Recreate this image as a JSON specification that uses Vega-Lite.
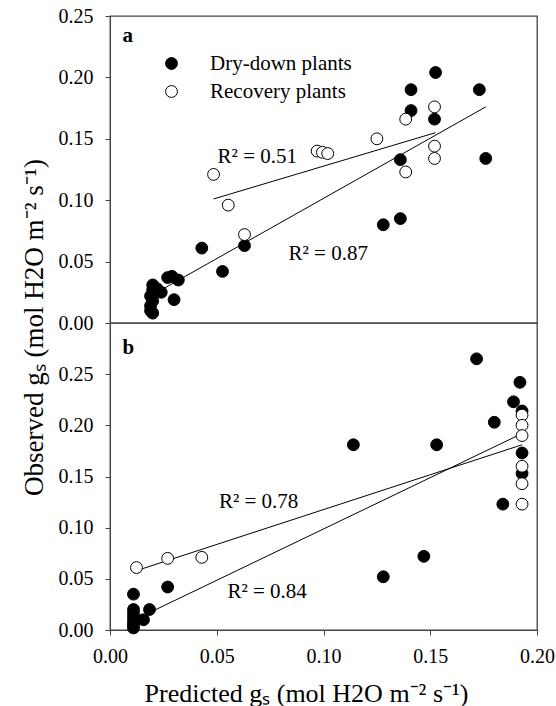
{
  "$schema": "https://vega.github.io/schema/vega-lite/v6.json",
  "padding": {"left": 19, "top": 5, "right": 5, "bottom": 0},
  "background": "white",
  "config": {
    "font": "Liberation Serif",
    "view": {"stroke": "#444", "strokeWidth": 1.3},
    "axis": {"grid": false, "domainColor": "#444", "tickColor": "#444", "labelColor": "black", "titleColor": "black", "labelFont": "Liberation Serif", "titleFont": "Liberation Serif", "labelFontSize": 20, "tickSize": 5, "titleFontWeight": "normal", "labelFlush": false}
  },
  "datasets": {
    "pts": [
      {"panel": "a", "group": "Dry-down plants", "pred": 0.020, "obs": 0.008},
      {"panel": "a", "group": "Dry-down plants", "pred": 0.019, "obs": 0.010},
      {"panel": "a", "group": "Dry-down plants", "pred": 0.019, "obs": 0.014},
      {"panel": "a", "group": "Dry-down plants", "pred": 0.020, "obs": 0.018},
      {"panel": "a", "group": "Dry-down plants", "pred": 0.019, "obs": 0.022},
      {"panel": "a", "group": "Dry-down plants", "pred": 0.020, "obs": 0.027},
      {"panel": "a", "group": "Dry-down plants", "pred": 0.020, "obs": 0.031},
      {"panel": "a", "group": "Dry-down plants", "pred": 0.022, "obs": 0.028},
      {"panel": "a", "group": "Dry-down plants", "pred": 0.024, "obs": 0.025},
      {"panel": "a", "group": "Dry-down plants", "pred": 0.027, "obs": 0.037},
      {"panel": "a", "group": "Dry-down plants", "pred": 0.029, "obs": 0.038},
      {"panel": "a", "group": "Dry-down plants", "pred": 0.032, "obs": 0.035},
      {"panel": "a", "group": "Dry-down plants", "pred": 0.030, "obs": 0.019},
      {"panel": "a", "group": "Dry-down plants", "pred": 0.043, "obs": 0.061},
      {"panel": "a", "group": "Dry-down plants", "pred": 0.0527, "obs": 0.042},
      {"panel": "a", "group": "Dry-down plants", "pred": 0.063, "obs": 0.063},
      {"panel": "a", "group": "Dry-down plants", "pred": 0.136, "obs": 0.133},
      {"panel": "a", "group": "Dry-down plants", "pred": 0.1525, "obs": 0.204},
      {"panel": "a", "group": "Dry-down plants", "pred": 0.141, "obs": 0.190},
      {"panel": "a", "group": "Dry-down plants", "pred": 0.173, "obs": 0.190},
      {"panel": "a", "group": "Dry-down plants", "pred": 0.141, "obs": 0.173},
      {"panel": "a", "group": "Dry-down plants", "pred": 0.152, "obs": 0.166},
      {"panel": "a", "group": "Dry-down plants", "pred": 0.176, "obs": 0.134},
      {"panel": "a", "group": "Dry-down plants", "pred": 0.128, "obs": 0.080},
      {"panel": "a", "group": "Dry-down plants", "pred": 0.136, "obs": 0.085},
      {"panel": "a", "group": "Recovery plants", "pred": 0.0485, "obs": 0.121},
      {"panel": "a", "group": "Recovery plants", "pred": 0.0554, "obs": 0.096},
      {"panel": "a", "group": "Recovery plants", "pred": 0.063, "obs": 0.072},
      {"panel": "a", "group": "Recovery plants", "pred": 0.125, "obs": 0.150},
      {"panel": "a", "group": "Recovery plants", "pred": 0.097, "obs": 0.140},
      {"panel": "a", "group": "Recovery plants", "pred": 0.0995, "obs": 0.139},
      {"panel": "a", "group": "Recovery plants", "pred": 0.102, "obs": 0.138},
      {"panel": "a", "group": "Recovery plants", "pred": 0.1385, "obs": 0.166},
      {"panel": "a", "group": "Recovery plants", "pred": 0.152, "obs": 0.176},
      {"panel": "a", "group": "Recovery plants", "pred": 0.152, "obs": 0.144},
      {"panel": "a", "group": "Recovery plants", "pred": 0.152, "obs": 0.134},
      {"panel": "a", "group": "Recovery plants", "pred": 0.1385, "obs": 0.123},
      {"panel": "b", "group": "Dry-down plants", "pred": 0.011, "obs": 0.035},
      {"panel": "b", "group": "Dry-down plants", "pred": 0.011, "obs": 0.020},
      {"panel": "b", "group": "Dry-down plants", "pred": 0.011, "obs": 0.016},
      {"panel": "b", "group": "Dry-down plants", "pred": 0.011, "obs": 0.012},
      {"panel": "b", "group": "Dry-down plants", "pred": 0.011, "obs": 0.008},
      {"panel": "b", "group": "Dry-down plants", "pred": 0.011, "obs": 0.005},
      {"panel": "b", "group": "Dry-down plants", "pred": 0.011, "obs": 0.002},
      {"panel": "b", "group": "Dry-down plants", "pred": 0.0157, "obs": 0.010},
      {"panel": "b", "group": "Dry-down plants", "pred": 0.0185, "obs": 0.020},
      {"panel": "b", "group": "Dry-down plants", "pred": 0.027, "obs": 0.042},
      {"panel": "b", "group": "Dry-down plants", "pred": 0.1717, "obs": 0.265},
      {"panel": "b", "group": "Dry-down plants", "pred": 0.192, "obs": 0.242},
      {"panel": "b", "group": "Dry-down plants", "pred": 0.189, "obs": 0.223},
      {"panel": "b", "group": "Dry-down plants", "pred": 0.180, "obs": 0.203},
      {"panel": "b", "group": "Dry-down plants", "pred": 0.114, "obs": 0.181},
      {"panel": "b", "group": "Dry-down plants", "pred": 0.153, "obs": 0.181},
      {"panel": "b", "group": "Dry-down plants", "pred": 0.193, "obs": 0.173},
      {"panel": "b", "group": "Dry-down plants", "pred": 0.193, "obs": 0.214},
      {"panel": "b", "group": "Dry-down plants", "pred": 0.193, "obs": 0.153},
      {"panel": "b", "group": "Dry-down plants", "pred": 0.184, "obs": 0.123},
      {"panel": "b", "group": "Dry-down plants", "pred": 0.147, "obs": 0.072},
      {"panel": "b", "group": "Dry-down plants", "pred": 0.128, "obs": 0.052},
      {"panel": "b", "group": "Recovery plants", "pred": 0.0124, "obs": 0.061},
      {"panel": "b", "group": "Recovery plants", "pred": 0.027, "obs": 0.070},
      {"panel": "b", "group": "Recovery plants", "pred": 0.043, "obs": 0.071},
      {"panel": "b", "group": "Recovery plants", "pred": 0.193, "obs": 0.210},
      {"panel": "b", "group": "Recovery plants", "pred": 0.193, "obs": 0.200},
      {"panel": "b", "group": "Recovery plants", "pred": 0.193, "obs": 0.190},
      {"panel": "b", "group": "Recovery plants", "pred": 0.193, "obs": 0.160},
      {"panel": "b", "group": "Recovery plants", "pred": 0.193, "obs": 0.143},
      {"panel": "b", "group": "Recovery plants", "pred": 0.193, "obs": 0.123}
    ],
    "fits": [
      {"panel": "a", "group": "Recovery plants", "x": 0.0485, "y": 0.101, "x2": 0.1525, "y2": 0.155},
      {"panel": "a", "group": "Dry-down plants", "x": 0.022, "y": 0.025, "x2": 0.176, "y2": 0.176},
      {"panel": "b", "group": "Recovery plants", "x": 0.0124, "y": 0.058, "x2": 0.193, "y2": 0.181},
      {"panel": "b", "group": "Dry-down plants", "x": 0.019, "y": 0.0175, "x2": 0.193, "y2": 0.192}
    ],
    "notes": [
      {"panel": "a", "text": "R² = 0.51", "x": 0.0504, "y": 0.130},
      {"panel": "a", "text": "R² = 0.87", "x": 0.0836, "y": 0.0513},
      {"panel": "b", "text": "R² = 0.78", "x": 0.051, "y": 0.119},
      {"panel": "b", "text": "R² = 0.84", "x": 0.055, "y": 0.031}
    ],
    "tags": [
      {"panel": "a", "text": "a", "x": 0.0059, "y": 0.229},
      {"panel": "b", "text": "b", "x": 0.0059, "y": 0.270}
    ]
  },
  "spacing": 0,
  "bounds": "flush",
  "resolve": {"legend": {"fill": "independent"}, "scale": {"y": "independent", "x": "independent"}},
  "vconcat": [
    {
      "width": 427,
      "height": 307,
      "layer": [
        {
          "data": {"name": "fits"},
          "transform": [{"filter": "datum.panel == 'a'"}],
          "mark": {"type": "rule", "color": "black", "strokeWidth": 1},
          "encoding": {
            "x": {"field": "x", "type": "quantitative", "scale": {"domain": [0, 0.2], "nice": false}, "axis": null},
            "y": {"field": "y", "type": "quantitative", "scale": {"domain": [0, 0.25], "nice": false},
                  "axis": {"title": null, "values": [0, 0.05, 0.1, 0.15, 0.2, 0.25], "format": ".2f", "labelPadding": 12}},
            "x2": {"field": "x2"},
            "y2": {"field": "y2"}
          }
        },
        {
          "data": {"name": "pts"},
          "transform": [{"filter": "datum.panel == 'a'"}],
          "mark": {"type": "point", "shape": "circle", "filled": true, "stroke": "black", "strokeWidth": 1, "size": 140, "opacity": 1},
          "encoding": {
            "x": {"field": "pred", "type": "quantitative"},
            "y": {"field": "obs", "type": "quantitative"},
            "fill": {"field": "group", "type": "nominal",
                     "scale": {"domain": ["Dry-down plants", "Recovery plants"], "range": ["black", "white"]},
                     "legend": {"title": null, "orient": "none", "legendX": 51, "legendY": 37, "padding": 0,
                                "symbolType": "circle", "symbolSize": 140, "symbolStrokeColor": "black", "symbolStrokeWidth": 1,
                                "labelFont": "Liberation Serif", "labelFontSize": 21, "labelColor": "black",
                                "labelOffset": 28, "rowPadding": 6}}
          }
        },
        {
          "data": {"name": "notes"},
          "transform": [{"filter": "datum.panel == 'a'"}],
          "mark": {"type": "text", "align": "left", "baseline": "alphabetic", "fontSize": 21, "color": "black"},
          "encoding": {
            "x": {"field": "x", "type": "quantitative"},
            "y": {"field": "y", "type": "quantitative"},
            "text": {"field": "text"}
          }
        },
        {
          "data": {"name": "tags"},
          "transform": [{"filter": "datum.panel == 'a'"}],
          "mark": {"type": "text", "align": "left", "baseline": "alphabetic", "fontSize": 21, "fontWeight": "bold", "color": "black"},
          "encoding": {
            "x": {"field": "x", "type": "quantitative"},
            "y": {"field": "y", "type": "quantitative"},
            "text": {"field": "text"}
          }
        }
      ]
    },
    {
      "width": 427,
      "height": 307,
      "layer": [
        {
          "data": {"name": "fits"},
          "transform": [{"filter": "datum.panel == 'b'"}],
          "mark": {"type": "rule", "color": "black", "strokeWidth": 1},
          "encoding": {
            "x": {"field": "x", "type": "quantitative", "scale": {"domain": [0, 0.2], "nice": false},
                  "axis": {"title": "Predicted gₛ (mol H2O m⁻² s⁻¹)", "values": [0, 0.05, 0.1, 0.15, 0.2], "format": ".2f",
                           "labelPadding": 11, "titleFontSize": 26, "titleAlign": "center", "titleBaseline": "alphabetic",
                           "titleX": 196, "titleY": 71}},
            "y": {"field": "y", "type": "quantitative", "scale": {"domain": [0, 0.3], "nice": false},
                  "axis": {"title": "Observed gₛ (mol H2O m⁻² s⁻¹)", "values": [0, 0.05, 0.1, 0.15, 0.2, 0.25], "format": ".2f",
                           "labelPadding": 12, "titleFontSize": 27, "titleAngle": 270, "titleAlign": "center", "titleBaseline": "middle",
                           "titleX": -76, "titleY": 4}},
            "x2": {"field": "x2"},
            "y2": {"field": "y2"}
          }
        },
        {
          "data": {"name": "pts"},
          "transform": [{"filter": "datum.panel == 'b'"}],
          "mark": {"type": "point", "shape": "circle", "filled": true, "stroke": "black", "strokeWidth": 1, "size": 140, "opacity": 1},
          "encoding": {
            "x": {"field": "pred", "type": "quantitative"},
            "y": {"field": "obs", "type": "quantitative"},
            "fill": {"field": "group", "type": "nominal",
                     "scale": {"domain": ["Dry-down plants", "Recovery plants"], "range": ["black", "white"]},
                     "legend": null}
          }
        },
        {
          "data": {"name": "notes"},
          "transform": [{"filter": "datum.panel == 'b'"}],
          "mark": {"type": "text", "align": "left", "baseline": "alphabetic", "fontSize": 21, "color": "black"},
          "encoding": {
            "x": {"field": "x", "type": "quantitative"},
            "y": {"field": "y", "type": "quantitative"},
            "text": {"field": "text"}
          }
        },
        {
          "data": {"name": "tags"},
          "transform": [{"filter": "datum.panel == 'b'"}],
          "mark": {"type": "text", "align": "left", "baseline": "alphabetic", "fontSize": 21, "fontWeight": "bold", "color": "black"},
          "encoding": {
            "x": {"field": "x", "type": "quantitative"},
            "y": {"field": "y", "type": "quantitative"},
            "text": {"field": "text"}
          }
        }
      ]
    }
  ]
}
